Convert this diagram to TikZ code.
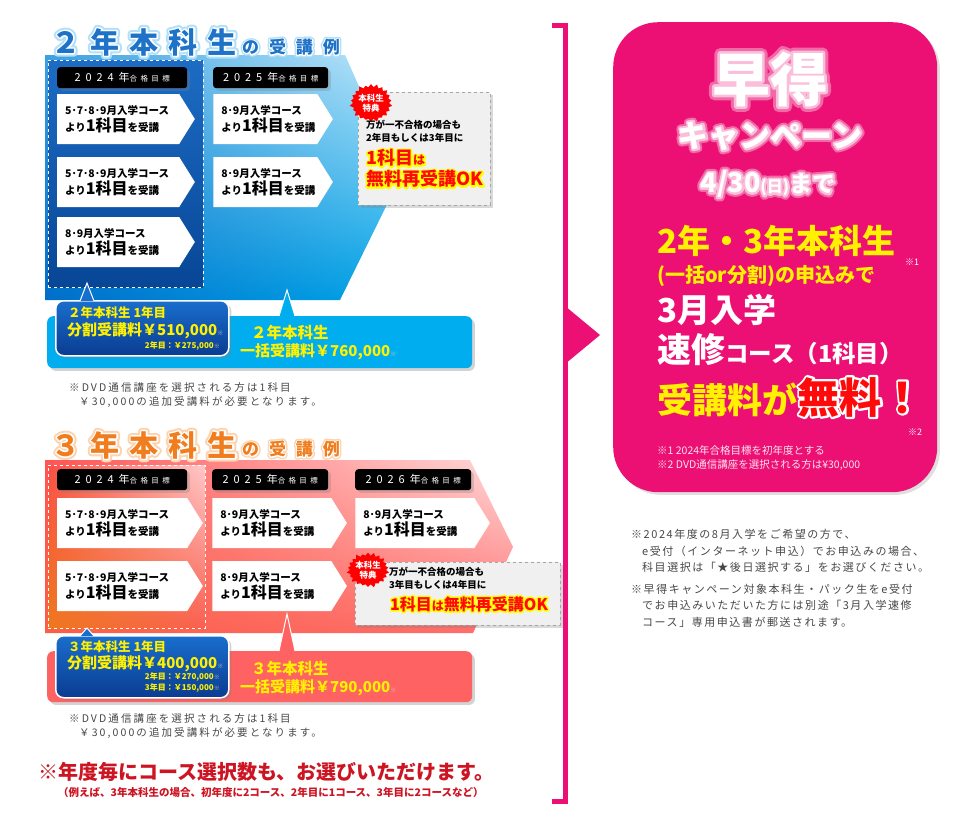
\documentclass[tikz,border=0pt]{standalone}
\usepackage{fontspec}
\setmainfont{Noto Sans CJK JP}
\usetikzlibrary{positioning,shapes.symbols,shadows,shadings}

\definecolor{hayapink}{RGB}{236,16,116}
\definecolor{barcyan}{RGB}{0,174,239}
\definecolor{barred}{RGB}{255,98,98}
\definecolor{capyellow}{RGB}{255,241,0}
\definecolor{titleblue}{RGB}{30,115,200}
\definecolor{glowblue}{RGB}{178,224,248}
\definecolor{titleorange}{RGB}{240,125,30}
\definecolor{gloworange}{RGB}{252,212,175}
\definecolor{okred}{RGB}{255,10,10}
\definecolor{notegray}{RGB}{70,70,70}
\definecolor{bigred}{RGB}{205,20,35}
\definecolor{splittop}{RGB}{25,110,205}
\definecolor{splitbot}{RGB}{10,60,145}
\definecolor{campglowout}{RGB}{242,105,168}
\definecolor{campglowin}{RGB}{250,190,218}
\definecolor{blueUL}{RGB}{60,160,225}
\definecolor{blueUR}{RGB}{190,232,250}
\definecolor{blueLL}{RGB}{0,110,200}
\definecolor{blueLR}{RGB}{0,165,232}
\definecolor{dashtop}{RGB}{28,108,196}
\definecolor{dashbot}{RGB}{8,70,150}
\definecolor{redUL}{RGB}{255,85,85}
\definecolor{redUR}{RGB}{255,220,220}
\definecolor{redLL}{RGB}{250,95,70}
\definecolor{redLR}{RGB}{255,110,110}
\definecolor{orUL}{RGB}{250,80,70}
\definecolor{orUR}{RGB}{255,200,200}
\definecolor{orLL}{RGB}{238,120,30}
\definecolor{orLR}{RGB}{250,95,80}

\tikzstyle{yearlabel} = [fill=black, text=white, rounded corners=3pt, minimum height=21pt,
    inner sep=0pt, anchor=north west, drop shadow={opacity=.3}]
\tikzstyle{coursebox} = [signal, signal to=east, signal pointer angle=116, fill=white,
    minimum height=50pt, inner xsep=8pt, align=left, anchor=west,
    font=\fontsize{10.5}{17}\selectfont\bfseries]
\tikzstyle{bonusbox} = [fill=black!6, draw=black!35, dashed, anchor=north west,
    inner sep=0pt, drop shadow={opacity=.3}]
\tikzstyle{badge} = [starburst, starburst points=22, starburst point height=4pt, fill=red,
    text=white, inner sep=0pt, minimum size=40pt, align=center,
    font=\fontsize{8.5}{10}\selectfont\bfseries]
\tikzstyle{okline} = [text=okred, anchor=west, inner sep=0pt,
    font=\fontsize{18}{18}\selectfont\bfseries]
\tikzstyle{pricebar} = [rounded corners=6pt, anchor=north west, inner sep=0pt,
    drop shadow={opacity=.35}]
\tikzstyle{splitbox} = [draw=white, line width=1.5pt, rounded corners=8pt, anchor=north west,
    top color=splittop, bottom color=splitbot, inner sep=0pt, drop shadow={opacity=.35}]
\tikzstyle{callout} = [text=capyellow, anchor=west, inner sep=0pt]
\tikzstyle{notetext} = [text=notegray, align=left, anchor=north west, inner sep=0pt]
\tikzstyle{titlebig} = [inner sep=0pt, anchor=west,
    font=\fontsize{29}{29}\selectfont\bfseries\addfontfeature{LetterSpace=35}]
\tikzstyle{titlesub} = [inner sep=0pt, anchor=west,
    font=\fontsize{17}{17}\selectfont\bfseries\addfontfeature{LetterSpace=58}]
\tikzstyle{camptext} = [text=white, inner sep=0pt]

% #1 stroke width, #2 stroke rgb (0..1), #3 text
\newcommand\outlined[3]{\special{pdf:code q #2 RG #1 w 1 j 1 J 2 Tr}#3\special{pdf:code 0 Tr Q}}
\newcommand\yeartext[2]{{\fontsize{11}{11}\selectfont\addfontfeature{LetterSpace=45}#1}%
  {\fontsize{7.5}{8}\selectfont\addfontfeature{LetterSpace=45}#2}}
\newcommand\bigsub[1]{{\fontsize{16}{17}\selectfont#1}}
\newcommand\okhalf[1]{{\fontsize{12}{12}\selectfont#1}}
\newcommand\kome{{\fontsize{6}{6}\selectfont\textcolor{black!20}{※}}}

\begin{document}
\begin{tikzpicture}[x=1pt,y=-1pt]
\useasboundingbox (0,0) rectangle (960,828);

% 2年本科生の受講例
\shade[upper left=blueUL, upper right=blueUR, lower left=blueLL, lower right=blueLR]
  (45,55) -- (345,55) -- (400,178) -- (340,300) -- (45,300) -- cycle;
\node[draw=white, dashed, top color=dashtop, bottom color=dashbot,
  minimum width=155pt, minimum height=227pt, anchor=north west, inner sep=0pt] (dash2) at (48,60) {};

\node[titlebig, text=glowblue] (t2g) at (51,42) {\outlined{7}{.698 .878 .973}{２年本科生}};
\node[titlebig, text=titleblue] (t2w) at (51,42) {\outlined{3}{1 1 1}{２年本科生}};
\node[titlebig, text=titleblue] (t2) at (51,42) {２年本科生};
\node[titlesub, text=glowblue] (s2g) at (242,47) {\outlined{5}{.698 .878 .973}{の受講例}};
\node[titlesub, text=titleblue] (s2w) at (242,47) {\outlined{2.2}{1 1 1}{の受講例}};
\node[titlesub, text=titleblue] (s2) at (242,47) {の受講例};

\node[yearlabel, minimum width=130pt] (y2a) at (57,67) {\yeartext{2024年}{合格目標}};
\node[yearlabel, minimum width=115pt] (y2b) at (213,67) {\yeartext{2025年}{合格目標}};

\node[coursebox, text width=106pt] (c2a1) at (57,119) {5･7･8･9月入学コース\\より\bigsub{1科目}を受講};
\node[coursebox, text width=106pt] (c2a2) at (57,182) {5･7･8･9月入学コース\\より\bigsub{1科目}を受講};
\node[coursebox, text width=106pt] (c2a3) at (57,242) {8･9月入学コース\\より\bigsub{1科目}を受講};
\node[coursebox, text width=88pt, right=18pt of c2a1] (c2b1) {8･9月入学コース\\より\bigsub{1科目}を受講};
\node[coursebox, text width=88pt, right=18pt of c2a2] (c2b2) {8･9月入学コース\\より\bigsub{1科目}を受講};

\node[bonusbox, minimum width=132pt, minimum height=113pt] (bon2) at (358,92) {};
\node[badge] (star2) at (371,103) {本科生\\特典};
\node[notetext, text=black, font=\fontsize{9.5}{12.5}\selectfont\bfseries,
  below right=28pt and 8pt of bon2.north west] (bon2t) {万が一不合格の場合も\\2年目もしくは3年目に};
\node[okline] (ok2ag) at (366,158) {\outlined{3.5}{1 1 0}{1科目\okhalf{は}}};
\node[okline] (ok2bg) at (366,179) {\outlined{3.5}{1 1 0}{無料再受講OK}};
\node[okline] (ok2a) at (366,158) {1科目\okhalf{は}};
\node[okline] (ok2b) at (366,179) {無料再受講OK};

\node[pricebar, fill=barcyan, minimum width=425pt, minimum height=52pt] (bar2) at (47,316) {};
\filldraw[fill=barcyan, draw=white, line width=1pt] ([xshift=232pt]bar2.north west) -- (287,290) -- ([xshift=248pt]bar2.north west);
\node[splitbox, minimum width=173pt, minimum height=55pt] (split2) at (55,300) {};
\filldraw[fill=splittop, draw=white, line width=1pt] (80,301) -- (87,283) -- (94,301);

\node[callout, font=\fontsize{12.5}{13}\selectfont\bfseries] (s2a) at (68,313) {２年本科生 1年目};
\node[callout, font=\fontsize{15}{15}\selectfont\bfseries] (s2b) at (67,331) {分割受講料￥510,000\kome};
\node[callout, anchor=east, font=\fontsize{8}{8}\selectfont\bfseries] (s2c) at (220,346) {2年目：￥275,000\kome};
\node[callout, font=\fontsize{15.5}{16}\selectfont\bfseries] (l2a) at (251,333) {２年本科生};
\node[callout, font=\fontsize{15}{15}\selectfont\bfseries] (l2b) at (240,352) {一括受講料￥760,000\kome};

\node[notetext, font=\fontsize{10.5}{14.5}\selectfont\addfontfeature{LetterSpace=20}] (n2) at (69,382)
  {※DVD通信講座を選択される方は1科目\\\hspace*{10pt}￥30,000の追加受講料が必要となります。};

% 3年本科生の受講例
\shade[upper left=redUL, upper right=redUR, lower left=redLL, lower right=redLR]
  (45,460) -- (470,460) -- (513,547) -- (473,633) -- (45,633) -- cycle;
\shade[upper left=orUL, upper right=orUR, lower left=orLL, lower right=orLR]
  (48,465) rectangle (205,628);
\node[draw=white, dashed, minimum width=157pt, minimum height=163pt, anchor=north west, inner sep=0pt] (dash3) at (48,465) {};

\node[titlebig, text=gloworange] (t3g) at (51,445) {\outlined{7}{.988 .831 .686}{３年本科生}};
\node[titlebig, text=titleorange] (t3w) at (51,445) {\outlined{3}{1 1 1}{３年本科生}};
\node[titlebig, text=titleorange] (t3) at (51,445) {３年本科生};
\node[titlesub, text=gloworange] (s3g) at (242,449) {\outlined{5}{.988 .831 .686}{の受講例}};
\node[titlesub, text=titleorange] (s3w) at (242,449) {\outlined{2.2}{1 1 1}{の受講例}};
\node[titlesub, text=titleorange] (s3) at (242,449) {の受講例};

\node[yearlabel, minimum width=130pt] (y3a) at (57,469) {\yeartext{2024年}{合格目標}};
\node[yearlabel, minimum width=116pt] (y3b) at (212,469) {\yeartext{2025年}{合格目標}};
\node[yearlabel, minimum width=116pt] (y3c) at (355,469) {\yeartext{2026年}{合格目標}};

\node[coursebox, text width=114pt] (c3a1) at (57,523) {5･7･8･9月入学コース\\より\bigsub{1科目}を受講};
\node[coursebox, text width=114pt] (c3a2) at (57,586) {5･7･8･9月入学コース\\より\bigsub{1科目}を受講};
\node[coursebox, text width=103pt, right=9pt of c3a1] (c3b1) {8･9月入学コース\\より\bigsub{1科目}を受講};
\node[coursebox, text width=103pt, right=9pt of c3a2] (c3b2) {8･9月入学コース\\より\bigsub{1科目}を受講};
\node[coursebox, text width=103pt, right=8pt of c3b1] (c3c1) {8･9月入学コース\\より\bigsub{1科目}を受講};

\node[bonusbox, minimum width=205pt, minimum height=63pt] (bon3) at (355,562) {};
\node[badge, minimum size=37pt] (star3) at (368,570) {本科生\\特典};
\node[notetext, text=black, font=\fontsize{9.5}{13}\selectfont\bfseries,
  below right=5pt and 34pt of bon3.north west] (bon3t) {万が一不合格の場合も\\3年目もしくは4年目に};
\node[okline, font=\fontsize{16}{16}\selectfont\bfseries] (ok3g) at (390,604) {\outlined{3.2}{1 1 0}{1科目\okhalf{は}無料再受講OK}};
\node[okline, font=\fontsize{16}{16}\selectfont\bfseries] (ok3) at (390,604) {1科目\okhalf{は}無料再受講OK};

\node[pricebar, fill=barred, minimum width=425pt, minimum height=51pt] (bar3) at (47,651) {};
\filldraw[fill=barred, draw=white, line width=1pt] ([xshift=232pt]bar3.north west) -- (287,614) -- ([xshift=248pt]bar3.north west);
\node[splitbox, minimum width=173pt, minimum height=62pt] (split3) at (55,635) {};
\filldraw[fill=splittop, draw=white, line width=1pt] (80,636) -- (87,628) -- (94,636);

\node[callout, font=\fontsize{12.5}{13}\selectfont\bfseries] (s3a) at (68,647) {３年本科生 1年目};
\node[callout, font=\fontsize{15}{15}\selectfont\bfseries] (s3b) at (67,664) {分割受講料￥400,000\kome};
\node[callout, anchor=east, font=\fontsize{8}{8}\selectfont\bfseries] (s3c) at (220,677) {2年目：￥270,000\kome};
\node[callout, anchor=east, font=\fontsize{8}{8}\selectfont\bfseries] (s3d) at (220,688) {3年目：￥150,000\kome};
\node[callout, font=\fontsize{15.5}{16}\selectfont\bfseries] (l3a) at (251,669) {３年本科生};
\node[callout, font=\fontsize{15}{15}\selectfont\bfseries] (l3b) at (240,688) {一括受講料￥790,000\kome};

\node[notetext, font=\fontsize{10.5}{14.5}\selectfont\addfontfeature{LetterSpace=20}] (n3) at (69,713)
  {※DVD通信講座を選択される方は1科目\\\hspace*{10pt}￥30,000の追加受講料が必要となります。};

\node[text=bigred, anchor=west, inner sep=0pt, font=\fontsize{20}{20}\selectfont\bfseries] (sel) at (38,772)
  {※年度毎にコース選択数も、お選びいただけます。};
\node[text=bigred, anchor=west, inner sep=0pt, font=\fontsize{10.5}{11}\selectfont\bfseries] (selex) at (58,792)
  {（例えば、3年本科生の場合、初年度に2コース、2年目に1コース、3年目に2コースなど）};

% bracket
\draw[hayapink, line width=5pt] (552,25) -- (565.5,25) -- (565.5,801) -- (552,801);
\fill[hayapink] (565,306) -- (600,335) -- (565,364) -- cycle;

% 早得キャンペーン
\node[fill=hayapink, rounded corners=45pt, minimum width=324pt, minimum height=470pt,
  anchor=north west, inner sep=0pt, drop shadow={opacity=.25}] (camp) at (613,22) {};

\tikzstyle{hayabig} = [camptext, font=\fontsize{58}{58}\selectfont\bfseries]
\tikzstyle{hayamid} = [camptext, font=\fontsize{31}{31}\selectfont\bfseries]
\tikzstyle{hayadate} = [camptext, font=\bfseries]
\node[hayabig, text=campglowout] (hayag) at (770,79) {\outlined{11}{.949 .412 .659}{早得}};
\node[hayabig, text=campglowin] (hayaw) at (770,79) {\outlined{5}{.980 .745 .855}{早得}};
\node[hayabig] (haya) at (770,79) {早得};
\node[hayamid, text=campglowout] (cpng) at (770,136) {\outlined{8}{.949 .412 .659}{キャンペーン}};
\node[hayamid, text=campglowin] (cpnw) at (770,136) {\outlined{4}{.980 .745 .855}{キャンペーン}};
\node[hayamid] (cpn) at (770,136) {キャンペーン};
\node[hayadate, text=campglowout] (dueg) at (768,184) {\outlined{8}{.949 .412 .659}{{\fontsize{27}{27}\selectfont 4/30}{\fontsize{16}{16}\selectfont(日)}{\fontsize{23}{23}\selectfont まで}}};
\node[hayadate, text=campglowin] (duew) at (768,184) {\outlined{4}{.980 .745 .855}{{\fontsize{27}{27}\selectfont 4/30}{\fontsize{16}{16}\selectfont(日)}{\fontsize{23}{23}\selectfont まで}}};
\node[hayadate] (due) at (768,184) {{\fontsize{27}{27}\selectfont 4/30}{\fontsize{16}{16}\selectfont(日)}{\fontsize{23}{23}\selectfont まで}};

\node[camptext, anchor=west, text=capyellow, font=\fontsize{33}{33}\selectfont\bfseries] (hy1) at (657,241) {2年・3年本科生};
\node[camptext, font=\fontsize{9}{9}\selectfont] (k1) at (912,262) {※1};
\node[camptext, anchor=west, text=capyellow, font=\fontsize{20}{20}\selectfont\bfseries] (hy2) at (657,276) {(一括or分割)の申込みで};
\node[camptext, anchor=west, font=\fontsize{33}{33}\selectfont\bfseries] (hy3) at (657,310) {3月入学};
\node[camptext, anchor=west, font=\bfseries] (hy4) at (657,350)
  {{\fontsize{34}{34}\selectfont 速修}{\fontsize{23.5}{24}\selectfont コース（1科目）}};
\node[camptext, anchor=base west, text=capyellow, font=\fontsize{35}{35}\selectfont\bfseries] (hy5) at (657,413) {受講料が};
\node[camptext, anchor=base west, text=okred, font=\fontsize{42}{42}\selectfont\bfseries] (hy6g) at (hy5.base east) {\outlined{4.5}{1 1 1}{無料！}};
\node[camptext, anchor=base west, text=okred, font=\fontsize{42}{42}\selectfont\bfseries] (hy6) at (hy5.base east) {無料！};
\node[camptext, font=\fontsize{9}{9}\selectfont] (k2) at (915,432) {※2};
\node[camptext, anchor=north west, align=left, text=white!88!hayapink,
  font=\fontsize{10.5}{14}\selectfont] (cnote) at (657,445)
  {※1 2024年合格目標を初年度とする\\※2 DVD通信講座を選択される方は¥30,000};

% notes
\node[notetext, font=\fontsize{11}{16.5}\selectfont\addfontfeature{LetterSpace=14}] (rn1) at (631,529)
  {※2024年度の8月入学をご希望の方で、\\\hspace*{11pt}e受付（インターネット申込）でお申込みの場合、\\\hspace*{11pt}科目選択は「★後日選択する」をお選びください。};
\node[notetext, font=\fontsize{11}{16.5}\selectfont\addfontfeature{LetterSpace=14},
  below=11pt of rn1.south west, anchor=north west] (rn2)
  {※早得キャンペーン対象本科生・パック生をe受付\\\hspace*{11pt}でお申込みいただいた方には別途「3月入学速修\\\hspace*{11pt}コース」専用申込書が郵送されます。};
\end{tikzpicture}
\end{document}
